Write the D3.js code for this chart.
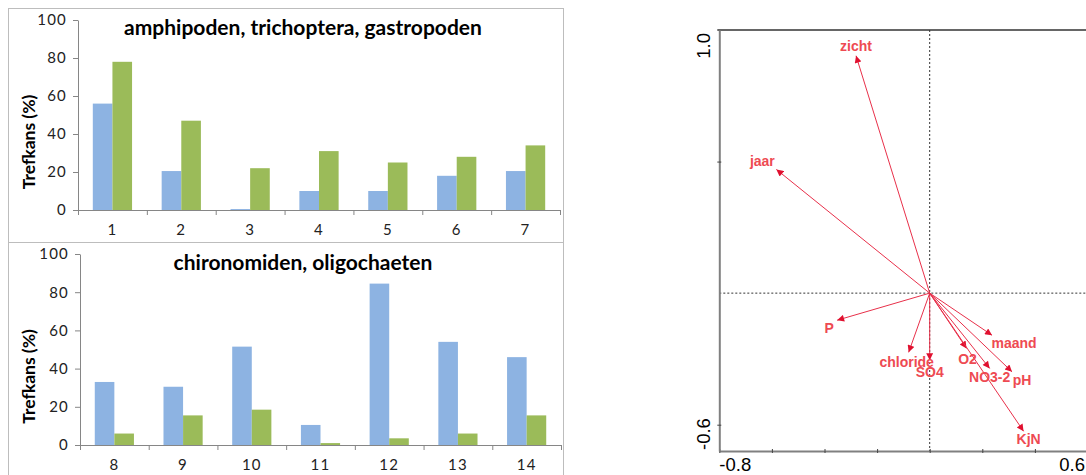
<!DOCTYPE html>
<html>
<head>
<meta charset="utf-8">
<script src="https://cdn.jsdelivr.net/npm/d3@7"></script>
<style>
  body { margin: 0; background: #fff; }
  svg { display: block; }
</style>
</head>
<body>
<div id="chart"></div>
<script>
// bar panels
const topTitle = 'amphipoden, trichoptera, gastropoden';
const topCats = ['1', '2', '3', '4', '5', '6', '7'];
const topBlue = [56, 20.5, 0.5, 10, 10, 18, 20.5];
const topGreen = [78, 47, 22, 31, 25, 28, 34];

const botTitle = 'chironomiden, oligochaeten';
const botCats = ['8', '9', '10', '11', '12', '13', '14'];
const botBlue = [33, 30.5, 51.5, 10.5, 84.5, 54, 46];
const botGreen = [6, 15.5, 18.5, 1, 3.5, 6, 15.5];

const yTicks = [0, 20, 40, 60, 80, 100];
const yLabel = 'Trefkans (%)';

// biplot
const varNames = ['zicht', 'jaar', 'P', 'chloride', 'SO4', 'O2', 'NO3-2', 'pH', 'maand', 'KjN'];
const varX = [-0.28, -0.583, -0.352, -0.08, 0, 0.14, 0.228, 0.313, 0.237, 0.357];
const varY = [0.902, 0.47, -0.103, -0.225, -0.255, -0.21, -0.286, -0.299, -0.16, -0.525];
const xDomain = [-0.8, 0.6];
const yDomain = [-0.6, 1.0];
const xTicks = [-0.8, -0.6, -0.4, -0.2, 0, 0.2, 0.4, 0.6];
const yTicksBi = [-0.5, 0.5];

// label offsets from the arrow tip (px)
const labelOffset = {
  'zicht': [0, -5], 'jaar': [-14, -3], 'P': [-8, 13], 'chloride': [-2, 15],
  'SO4': [0, 17], 'O2': [1, 16], 'NO3-2': [0, 14], 'pH': [10, 13],
  'maand': [22, 13], 'KjN': [5, 13]
};

const width = 1086, height = 475;
const blue = '#8db3e2', green = '#9bbb59';
const fmt = v => d3.format('.1f')(v).replace('\u2212', '-');

const svg = d3.select('#chart').append('svg')
  .attr('width', width)
  .attr('height', height);

// panel borders
svg.append('rect')
  .attr('x', 8.5).attr('y', 8.5)
  .attr('width', 555).attr('height', 500)
  .attr('fill', 'none').attr('stroke', '#bdbdbd');
svg.append('line')
  .attr('x1', 8).attr('x2', 564).attr('y1', 242.5).attr('y2', 242.5)
  .attr('stroke', '#bdbdbd');

function barPanel(cats, a, b, title, left, right, top, bottom, titleY) {
  const g = svg.append('g');
  const y = d3.scaleLinear().domain([0, 100]).range([bottom, top]);
  const x = d3.scaleBand().domain(cats).range([left, right]).paddingInner(0.43).paddingOuter(0.215);
  const xEdge = d3.scaleLinear().domain([0, cats.length]).range([left, right]);

  const bw = x.bandwidth() / 2;
  g.selectAll('rect.a').data(cats).join('rect')
    .attr('x', d => x(d))
    .attr('y', (d, i) => y(a[i]))
    .attr('width', bw)
    .attr('height', (d, i) => y(0) - y(a[i]))
    .attr('fill', blue);
  g.selectAll('rect.b').data(cats).join('rect')
    .attr('x', d => x(d) + bw)
    .attr('y', (d, i) => y(b[i]))
    .attr('width', bw)
    .attr('height', (d, i) => y(0) - y(b[i]))
    .attr('fill', green);

  const ya = g.append('g')
    .attr('transform', `translate(${left},0)`)
    .call(d3.axisLeft(y).tickValues(yTicks).tickSize(5).tickSizeOuter(0).tickPadding(6));
  ya.selectAll('line, path').attr('stroke', '#868686');
  ya.selectAll('text')
    .attr('font-family', 'Lato, sans-serif').attr('font-size', 15)
    .attr('letter-spacing', 1.2).attr('fill', '#222');

  const xa = g.append('g')
    .attr('transform', `translate(0,${bottom})`)
    .call(d3.axisBottom(xEdge).ticks(cats.length).tickSize(5).tickSizeOuter(0).tickFormat(''));
  xa.selectAll('line, path').attr('stroke', '#868686');

  g.selectAll('text.cat').data(cats).join('text')
    .attr('x', d => x(d) + x.bandwidth() / 2)
    .attr('y', bottom + 25)
    .attr('text-anchor', 'middle')
    .attr('font-family', 'Lato, sans-serif')
    .attr('font-size', 15)
    .attr('letter-spacing', 1.2)
    .attr('fill', '#222')
    .text(d => d);

  g.append('text')
    .attr('x', 303).attr('y', titleY)
    .attr('text-anchor', 'middle')
    .attr('font-family', 'Lato, sans-serif')
    .attr('font-weight', 'bold')
    .attr('font-size', 21)
    .text(title);

  g.append('text')
    .attr('transform', `translate(35,${(top + bottom) / 2 + 27}) rotate(-90)`)
    .attr('text-anchor', 'middle')
    .attr('font-family', 'Lato, sans-serif')
    .attr('font-weight', 'bold')
    .attr('font-size', 17.5)
    .text(yLabel);
}

barPanel(topCats, topBlue, topGreen, topTitle, 78, 560, 20, 210, 35);
barPanel(botCats, botBlue, botGreen, botTitle, 80, 561, 254, 445, 270);

// biplot
const bx = d3.scaleLinear().domain(xDomain).range([719.3, 1087.5]);
const by = d3.scaleLinear().domain(yDomain).range([451, 30]);
const bi = svg.append('g');

bi.append('line')
  .attr('x1', bx(0)).attr('x2', bx(0)).attr('y1', by(1.0)).attr('y2', by(-0.6))
  .attr('stroke', '#333').attr('stroke-dasharray', '2,2');
bi.append('line')
  .attr('x1', bx(-0.8)).attr('x2', width).attr('y1', by(0)).attr('y2', by(0))
  .attr('stroke', '#333').attr('stroke-dasharray', '2,2');

// top frame
bi.append('line')
  .attr('x1', bx(-0.8) - 2).attr('x2', width).attr('y1', by(1.0)).attr('y2', by(1.0))
  .attr('stroke', '#333').attr('stroke-width', 1.5);

const bxa = bi.append('g')
  .attr('transform', `translate(0,${by(-0.6)})`)
  .call(d3.axisTop(bx).tickValues(xTicks).tickSize(4).tickSizeOuter(0).tickFormat(''));
bxa.select('path').attr('stroke', '#808080').attr('stroke-width', 2);
bxa.selectAll('line').attr('stroke', '#444').attr('transform', 'translate(0,2)');

const bya = bi.append('g')
  .attr('transform', `translate(${bx(-0.8)},0)`)
  .call(d3.axisRight(by).tickValues(yTicksBi).tickSize(4).tickSizeOuter(0).tickFormat(''));
bya.select('path').attr('stroke', '#808080').attr('stroke-width', 2);
bya.selectAll('line').attr('stroke', '#444').attr('transform', 'translate(-2,0)');

const axisFont = 'Liberation Sans, Arial, sans-serif';
bi.append('text')
  .attr('x', bx(-0.8)).attr('y', 471)
  .attr('font-family', axisFont).attr('font-size', 18.5)
  .text(fmt(xDomain[0]));
bi.append('text')
  .attr('x', 1085).attr('y', 471)
  .attr('text-anchor', 'end')
  .attr('font-family', axisFont).attr('font-size', 18.5)
  .text(fmt(xDomain[1]));
bi.append('text')
  .attr('transform', `translate(710,${by(1.0) + 3}) rotate(-90)`)
  .attr('text-anchor', 'end')
  .attr('font-family', axisFont).attr('font-size', 18.5)
  .text(fmt(yDomain[1]));
bi.append('text')
  .attr('transform', `translate(710,${by(-0.6) - 1}) rotate(-90)`)
  .attr('text-anchor', 'start')
  .attr('font-family', axisFont).attr('font-size', 18.5)
  .text(fmt(yDomain[0]));

// arrows
svg.append('defs').append('marker')
  .attr('id', 'head')
  .attr('viewBox', '0 0 10 10')
  .attr('refX', 10).attr('refY', 5)
  .attr('markerWidth', 9).attr('markerHeight', 7)
  .attr('markerUnits', 'userSpaceOnUse')
  .attr('orient', 'auto')
  .append('path')
  .attr('d', 'M0,0L10,5L0,10Z')
  .attr('fill', '#e0102f');

bi.selectAll('line.arrow').data(varNames).join('line')
  .attr('class', 'arrow')
  .attr('x1', bx(0)).attr('y1', by(0))
  .attr('x2', (d, i) => bx(varX[i]))
  .attr('y2', (d, i) => by(varY[i]))
  .attr('stroke', '#e8304a')
  .attr('stroke-width', 1)
  .attr('marker-end', 'url(#head)');

bi.selectAll('text.var').data(varNames).join('text')
  .attr('class', 'var')
  .attr('x', (d, i) => bx(varX[i]) + labelOffset[d][0])
  .attr('y', (d, i) => by(varY[i]) + labelOffset[d][1])
  .attr('text-anchor', 'middle')
  .attr('font-family', axisFont)
  .attr('font-weight', 'bold')
  .attr('font-size', 14)
  .attr('fill', '#ee4a52')
  .text(d => d);
</script>
</body>
</html>
